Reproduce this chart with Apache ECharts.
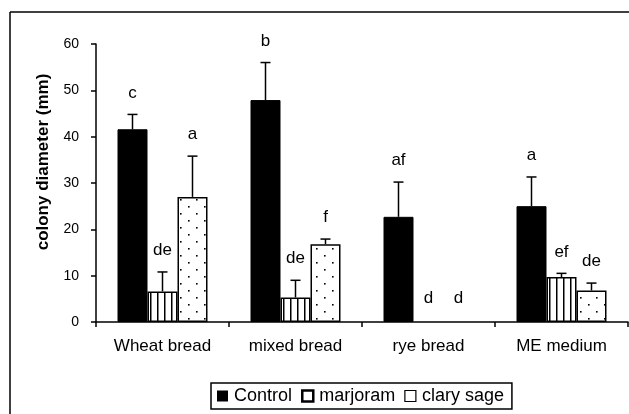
<!DOCTYPE html>
<html>
<head>
<meta charset="utf-8">
<script src="https://cdn.jsdelivr.net/npm/echarts@6/dist/echarts.min.js"></script>
<style>
html,body{margin:0;padding:0;background:#fff;}
#chart{width:629px;height:414px;}
</style>
</head>
<body>
<div id="chart"></div>
<script>
// ---- data ----
var categories = ['Wheat bread', 'mixed bread', 'rye bread', 'ME medium'];
var seriesNames = ['Control', 'marjoram', 'clary sage'];
var controlVals = [41.6, 47.9, 22.7, 25.0];
var controlErr  = [3.2, 8.1, 7.5, 6.3];
var controlLetters = ['c', 'b', 'af', 'a'];
var marjoramVals = [6.6, 5.3, 0, 9.7];
var marjoramErr  = [4.2, 3.7, 0, 0.8];
var marjoramLetters = ['de', 'de', 'd', 'ef'];
var claryVals = [27.0, 16.8, 0, 6.8];
var claryErr  = [8.8, 1.1, 0, 1.6];
var claryLetters = ['a', 'f', 'd', 'de'];
var yTicks = [0, 10, 20, 30, 40, 50, 60];
var yTitle = 'colony diameter (mm)';

// ---- patterns ----
function linePattern() {
  var c = document.createElement('canvas');
  c.width = 7; c.height = 6;
  var g = c.getContext('2d');
  g.fillStyle = '#fff'; g.fillRect(0, 0, 7, 6);
  g.fillStyle = '#000'; g.fillRect(3, 0, 1.5, 6);
  return c;
}
function dotPattern() {
  var c = document.createElement('canvas');
  c.width = 16; c.height = 14;
  var g = c.getContext('2d');
  g.fillStyle = '#fff'; g.fillRect(0, 0, 16, 14);
  g.fillStyle = '#000';
  g.fillRect(4, 3, 1.6, 1.6);
  g.fillRect(12, 10, 1.6, 1.6);
  return c;
}

var FONT = 'Liberation Sans, Arial, sans-serif';
var BAR_W = 30;

function barData(vals) {
  // zero-height bars draw nothing (no border line)
  return vals.map(function (v) {
    return v === 0 ? { value: v, itemStyle: { borderWidth: 0 } } : v;
  });
}

function errSeries(name, vals, errs, letters, offset) {
  var data = vals.map(function (v, i) { return [i, v, errs[i]]; });
  return {
    type: 'custom',
    name: name + ' err',
    z: 5,
    silent: true,
    data: data,
    renderItem: function (params, api) {
      var i = params.dataIndex;
      var idx = api.value(0), v = api.value(1), e = api.value(2);
      var x = api.coord([idx, 0])[0] + offset;
      var yv = api.coord([idx, v])[1];
      var ye = api.coord([idx, v + e])[1];
      var children = [];
      if (e > 0) {
        children.push({ type: 'line', shape: { x1: x, y1: yv, x2: x, y2: ye }, style: { stroke: '#000', lineWidth: 1.5 } });
        children.push({ type: 'line', shape: { x1: x - 5, y1: ye, x2: x + 5, y2: ye }, style: { stroke: '#000', lineWidth: 1.5 } });
      }
      children.push({
        type: 'text',
        style: {
          text: letters[i], x: x, y: ye - (e > 0 ? 13 : 15),
          align: 'center', verticalAlign: 'bottom',
          fontSize: 17, fontFamily: FONT, fill: '#000'
        }
      });
      return { type: 'group', children: children };
    }
  };
}

var chart = echarts.init(document.getElementById('chart'), null, { renderer: 'canvas' });
var option = {
  backgroundColor: '#fff',
  animation: false,
  textStyle: { fontFamily: FONT, color: '#000' },
  grid: { left: 96, right: 1, top: 44, bottom: 92, containLabel: false },
  graphic: [
    { type: 'line', shape: { x1: 10, y1: 12, x2: 629, y2: 12 }, style: { stroke: '#000', lineWidth: 1.5 } },
    { type: 'line', shape: { x1: 10, y1: 12, x2: 10, y2: 414 }, style: { stroke: '#000', lineWidth: 1.5 } },
    { type: 'text', x: 43, y: 162, rotation: Math.PI / 2,
      style: { text: yTitle, align: 'center', verticalAlign: 'middle',
               fontSize: 17, fontWeight: 'bold', fontFamily: FONT, fill: '#000' } }
  ],
  legend: {
    left: 211, top: 383,
    padding: [4, 8, 4, 6],
    itemGap: 9,
    itemWidth: 11, itemHeight: 11,
    borderColor: '#000', borderWidth: 1.5,
    textStyle: { fontSize: 18, fontFamily: FONT, color: '#000', padding: [0, 0, 0, 1] },
    icon: 'rect',
    data: [
      { name: seriesNames[0], itemStyle: { color: '#000', borderColor: '#000', borderWidth: 0 } },
      { name: seriesNames[1], itemStyle: { color: '#fff', borderColor: '#000', borderWidth: 2.5 } },
      { name: seriesNames[2], itemStyle: { color: '#fff', borderColor: '#000', borderWidth: 1.2 } }
    ]
  },
  xAxis: {
    type: 'category',
    data: categories,
    axisLine: { lineStyle: { color: '#000', width: 1.5 } },
    axisTick: { show: true, length: 5, lineStyle: { color: '#000', width: 1.5 } },
    axisLabel: { fontSize: 17, fontFamily: FONT, color: '#000', margin: 16 },
    splitLine: { show: false }
  },
  yAxis: {
    type: 'value',
    min: yTicks[0], max: yTicks[yTicks.length - 1], interval: 10,
    axisLine: { show: true, lineStyle: { color: '#000', width: 1.5 } },
    axisTick: { show: true, length: 5, lineStyle: { color: '#000', width: 1.5 } },
    axisLabel: { fontSize: 14, fontFamily: FONT, color: '#000', margin: 17 },
    splitLine: { show: false }
  },
  series: [
    { type: 'bar', name: seriesNames[0], data: barData(controlVals), barWidth: BAR_W, barGap: '0%',
      itemStyle: { color: '#000', borderColor: '#000', borderWidth: 1 } },
    { type: 'bar', name: seriesNames[1], data: barData(marjoramVals), barWidth: BAR_W, barGap: '0%',
      itemStyle: { color: { image: linePattern(), repeat: 'repeat' }, borderColor: '#000', borderWidth: 1.5 } },
    { type: 'bar', name: seriesNames[2], data: barData(claryVals), barWidth: BAR_W, barGap: '0%',
      itemStyle: { color: { image: dotPattern(), repeat: 'repeat' }, borderColor: '#000', borderWidth: 1.5 } },
    errSeries(seriesNames[0], controlVals, controlErr, controlLetters, -BAR_W),
    errSeries(seriesNames[1], marjoramVals, marjoramErr, marjoramLetters, 0),
    errSeries(seriesNames[2], claryVals, claryErr, claryLetters, BAR_W)
  ]
};
chart.setOption(option);
</script>
</body>
</html>
